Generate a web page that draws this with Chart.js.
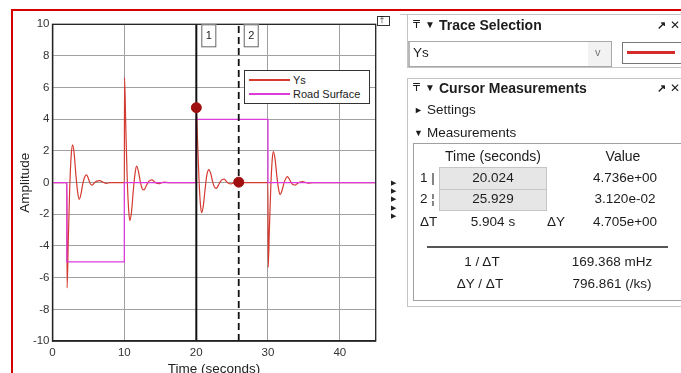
<!DOCTYPE html>
<html>
<head>
<meta charset="utf-8">
<script src="https://cdn.jsdelivr.net/npm/chart.js@4.4.1/dist/chart.umd.min.js"></script>
<style>
  body { margin: 0; width: 681px; height: 373px; overflow: hidden; background: #fff;
         font-family: 'Liberation Sans', Arial, sans-serif; color: #1c1c1c; position: relative; }
  #plot { position: absolute; left: 0; top: 0; width: 400px; height: 385px; }
  .abs { position: absolute; white-space: nowrap; }
  .t { position: absolute; white-space: nowrap; font-size: 13.5px; line-height: 16px; }
  .c { text-align: center; width: 140px; }
  .h { font-weight: bold; font-size: 14px; }
  .box { position: absolute; box-sizing: border-box; }
</style>
</head>
<body>
<div id="plot"><canvas id="scope" width="400" height="385"></canvas></div>

<!-- red frame of the screenshot -->
<div class="box" style="left:12px; top:9px; width:669px; height:2px; background:#d40000;"></div>
<div class="box" style="left:11px; top:9px; width:2px; height:364px; background:#d40000;"></div>

<!-- undock icon and the small arrows beside the axes -->
<div class="box" style="left:377px; top:16px; width:13px; height:10px; border:1px solid #333; background:#fff;">
  <div class="abs" style="left:2px; top:-2px; font-size:9px; line-height:10px; font-family:'DejaVu Sans';">⤒</div>
</div>
<div class="abs" style="left:391px; top:179px; font-size:7px; line-height:8.2px; color:#222;">▶<br>▶<br>▶<br>▶<br>▶</div>

<!-- Trace Selection panel -->
<div class="box" style="left:400px; top:14px; width:290px; height:1px; background:#c8c8c8;"></div>
<div class="box" style="left:407px; top:14px; width:290px; height:54px; border:1px solid #c4c4c4;"></div>
<div class="t" style="left:413px; top:17px; font-family:'DejaVu Sans'; font-size:11px;">₸</div>
<div class="t" style="left:425px; top:17px; font-size:10px;">▼</div>
<div class="t h" style="left:439px; top:17px;">Trace Selection</div>
<div class="t" style="left:657px; top:17px; font-size:11px; font-weight:bold;">↗</div>
<div class="t" style="left:670px; top:17px; font-size:12px;">✕</div>
<div class="box" style="left:408px; top:41px; width:204px; height:26px; border:1px solid #a8a8a8; border-left:2px solid #b8b8b8; background:#fff;"></div>
<div class="box" style="left:588px; top:42px; width:23px; height:24px; background:#f2f2f2;"></div>
<div class="t" style="left:413px; top:45px;">Ys</div>
<div class="t" style="left:595px; top:44px; font-size:11px; color:#777;">v</div>
<div class="box" style="left:622px; top:42px; width:66px; height:22px; border:1px solid #777; background:#fff;"></div>
<div class="box" style="left:627px; top:51px; width:48px; height:2.5px; background:#d42a2a;"></div>

<!-- Cursor Measurements panel -->
<div class="box" style="left:407px; top:78px; width:290px; height:229px; border:1px solid #c4c4c4;"></div>
<div class="t" style="left:413px; top:80px; font-family:'DejaVu Sans'; font-size:11px;">₸</div>
<div class="t" style="left:425px; top:80px; font-size:10px;">▼</div>
<div class="t h" style="left:439px; top:80px;">Cursor Measurements</div>
<div class="t" style="left:657px; top:80px; font-size:11px; font-weight:bold;">↗</div>
<div class="t" style="left:670px; top:80px; font-size:12px;">✕</div>
<div class="t" style="left:414px; top:102px; font-size:9px;">►</div>
<div class="t" style="left:427px; top:102px;">Settings</div>
<div class="t" style="left:414px; top:125px; font-size:9px;">▼</div>
<div class="t" style="left:427px; top:125px;">Measurements</div>
<div class="box" style="left:413px; top:143px; width:290px; height:158px; border:1px solid #a0a0a0;"></div>
<div class="t c" style="left:423px; top:148px; font-size:14px;">Time (seconds)</div>
<div class="t c" style="left:553px; top:148px; font-size:14px;">Value</div>

<div class="t" style="left:420px; top:170px;">1 |</div>
<div class="box" style="left:439px; top:167px; width:108px; height:23px; border:1px solid #c6c6c6; background:#e6e6e6;"></div>
<div class="t c" style="left:423px; top:170px;">20.024</div>
<div class="t c" style="left:555px; top:170px;">4.736e+00</div>

<div class="t" style="left:420px; top:191px;">2 ¦</div>
<div class="box" style="left:439px; top:189px; width:108px; height:22px; border:1px solid #c6c6c6; background:#e6e6e6;"></div>
<div class="t c" style="left:423px; top:191px;">25.929</div>
<div class="t c" style="left:555px; top:191px;">3.120e-02</div>

<div class="t" style="left:420px; top:214px;">ΔT</div>
<div class="t c" style="left:423px; top:214px;">5.904 s</div>
<div class="t" style="left:547px; top:214px;">ΔY</div>
<div class="t c" style="left:555px; top:214px;">4.705e+00</div>

<div class="box" style="left:427px; top:246px; width:241px; height:1.5px; background:#555;"></div>
<div class="t c" style="left:412px; top:254px;">1 / ΔT</div>
<div class="t c" style="left:542px; top:254px;">169.368 mHz</div>
<div class="t c" style="left:410px; top:276px;">ΔY / ΔT</div>
<div class="t c" style="left:542px; top:276px;">796.861 (/ks)</div>

<div id="legend" class="box" style="left:244px; top:70px; width:126px; height:34px; border:1px solid #333; background:#fff;"></div>

<script>
// scope trace: Ys (time in seconds, amplitude)
var ysTime = [
  0, 2, 2.03, 2.2, 2.4, 2.6, 2.8, 3.0, 3.25, 3.5, 3.72, 3.95, 4.25, 4.5, 4.75, 5.0, 5.25, 5.53, 5.8, 6.1, 6.6, 7.0, 7.5, 8.0,
  10, 10.03, 10.2, 10.4, 10.6, 10.76, 11.0, 11.25, 11.5, 11.7, 11.95, 12.25, 12.5, 12.75, 13.05, 13.35, 13.6, 13.86, 14.2, 14.5, 14.8, 15.2, 15.6, 16.2,
  20, 20.024, 20.2, 20.4, 20.6, 20.76, 21.0, 21.25, 21.5, 21.78, 22.05, 22.3, 22.55, 22.8, 23.1, 23.4, 23.65, 23.9, 24.2, 24.5, 24.85, 25.3, 25.929, 26.5,
  30, 30.03, 30.2, 30.4, 30.6, 30.76, 31.0, 31.25, 31.5, 31.7, 31.95, 32.25, 32.5, 32.7, 33.0, 33.3, 33.55, 33.8, 34.1, 34.45, 34.8, 35.2, 35.6, 36.2, 45
];
var ysValue = [
  0, 0, -6.65, -3.6, -0.3, 1.7, 2.38, 1.9, 0.55, -0.6, -1.05, -0.75, 0, 0.38, 0.49, 0.25, -0.05, -0.15, -0.02, 0.08, 0.13, 0.04, -0.04, 0,
  0, 6.63, 3.6, 0.3, -1.7, -2.4, -1.85, -0.5, 0.6, 1.05, 0.75, 0, -0.38, -0.46, -0.2, 0.05, 0.15, 0.17, 0.05, -0.04, -0.06, 0, 0.03, 0,
  0, 4.736, 2.6, 0.2, -1.4, -1.9, -1.45, -0.4, 0.5, 0.82, 0.55, 0.05, -0.28, -0.36, -0.16, 0.08, 0.2, 0.22, 0.08, -0.04, -0.08, 0, 0.0312, 0,
  0, -5.35, -2.9, -0.2, 1.5, 1.96, 1.45, 0.35, -0.45, -0.75, -0.5, 0, 0.28, 0.38, 0.2, -0.04, -0.13, -0.15, -0.05, 0.04, 0.06, 0.02, -0.03, 0, 0
];
// road surface steps (value holds from the previous change time)
var roadTime = [0, 2, 10, 20, 30, 45];
var roadValue = [0, -5, 0, 4, 0, 0];
// cursors
var cursorTime = [20.024, 25.929];
var cursorValue = [4.736, 0.0312];
var cursorNames = ['1', '2'];

var xTicks = [0, 10, 20, 30, 40];
var yTicks = [-10, -8, -6, -4, -2, 0, 2, 4, 6, 8, 10];
var seriesNames = ['Ys', 'Road Surface'];
var seriesColors = ['#d43a30', '#dc3cdc'];

function pts(xs, ys) {
  return xs.map(function(x, i) { return {x: x, y: ys[i]}; });
}

var framePlugin = {
  id: 'frame',
  afterDatasetsDraw: function(chart) {
    var ctx = chart.ctx, a = chart.chartArea, xs = chart.scales.x;
    ctx.save();
    ctx.strokeStyle = '#222';
    ctx.lineWidth = 1.3;
    ctx.strokeRect(a.left, a.top, a.right - a.left, a.bottom - a.top);
    // numbered tags beside the cursor lines
    ctx.font = '11px "Liberation Sans", Arial';
    ctx.textAlign = 'center';
    ctx.textBaseline = 'middle';
    cursorTime.forEach(function(t, i) {
      var px = xs.getPixelForValue(t);
      ctx.fillStyle = '#fff';
      ctx.fillRect(px + 5, a.top, 15, 23);
      ctx.strokeStyle = '#666';
      ctx.lineWidth = 1;
      ctx.strokeRect(px + 5.5, a.top + 0.5, 14, 22);
      ctx.fillStyle = '#222';
      ctx.fillText(cursorNames[i], px + 12.5, a.top + 12);
    });
    ctx.restore();
  }
};

new Chart(document.getElementById('scope'), {
  type: 'line',
  data: {
    datasets: [
      {
        label: seriesNames[0], data: pts(ysTime, ysValue), borderColor: seriesColors[0],
        borderWidth: 1.2, pointRadius: 0, cubicInterpolationMode: 'monotone', tension: 0.4, order: 3
      },
      {
        label: seriesNames[1], data: pts(roadTime, roadValue), borderColor: seriesColors[1],
        borderWidth: 1.3, pointRadius: 0, stepped: 'before', order: 2
      },
      {
        label: 'cursor 1', data: pts([cursorTime[0], cursorTime[0]], [-10, 10]), borderColor: '#111',
        borderWidth: 2, pointRadius: 0, order: 1
      },
      {
        label: 'cursor 2', data: pts([cursorTime[1], cursorTime[1]], [-10, 10]), borderColor: '#111',
        borderWidth: 1.8, borderDash: [7, 4], pointRadius: 0, order: 1
      },
      {
        label: 'cursor values', data: pts(cursorTime, cursorValue), showLine: false,
        pointRadius: 5, pointBackgroundColor: '#a01010', pointBorderColor: '#a01010', order: 0
      }
    ]
  },
  options: {
    responsive: false,
    animation: false,
    layout: { padding: { left: 0, right: 24.3, top: 24.3, bottom: 0 } },
    plugins: { legend: { display: false }, tooltip: { enabled: false } },
    scales: {
      x: {
        type: 'linear', min: 0, max: 45,
        afterBuildTicks: function(s) { s.ticks = xTicks.map(function(v) { return {value: v}; }); },
        afterFit: function(s) { s.height = 44; s.paddingLeft = 0; s.paddingRight = 0; },
        ticks: { color: '#333', padding: 5, maxRotation: 0, font: { size: 11.5, family: "'Liberation Sans', Arial" } },
        grid: { color: '#a0a0a0', drawTicks: false },
        border: { color: '#222', width: 1.3 },
        title: { display: true, text: 'Time (seconds)', color: '#222', padding: { top: 0, bottom: 7.9 },
                 font: { size: 13.5, family: "'Liberation Sans', Arial" } }
      },
      y: {
        type: 'linear', min: -10, max: 10,
        afterBuildTicks: function(s) { s.ticks = yTicks.map(function(v) { return {value: v}; }); },
        afterFit: function(s) { s.width = 52.5; s.paddingTop = 0; s.paddingBottom = 0; },
        ticks: { color: '#333', padding: 3, font: { size: 11.5, family: "'Liberation Sans', Arial" } },
        grid: { color: '#a0a0a0', drawTicks: false },
        border: { color: '#222', width: 1.3 },
        title: { display: true, text: 'Amplitude', color: '#222', padding: { top: 17.4, bottom: 0 },
                 font: { size: 13.5, family: "'Liberation Sans', Arial" } }
      }
    }
  },
  plugins: [framePlugin]
});

// legend box inside the axes
var lg = document.getElementById('legend');
seriesNames.forEach(function(name, i) {
  var y = 9 + i * 14;
  lg.insertAdjacentHTML('beforeend',
    '<div class="box" style="left:4px; top:' + (y - 0.6) + 'px; width:41px; height:1.3px; background:' + seriesColors[i] + ';"></div>' +
    '<div class="abs" style="left:48px; top:' + (y - 7) + 'px; font-size:11px; line-height:14px; color:#222;">' + name + '</div>');
});
</script>
</body>
</html>
